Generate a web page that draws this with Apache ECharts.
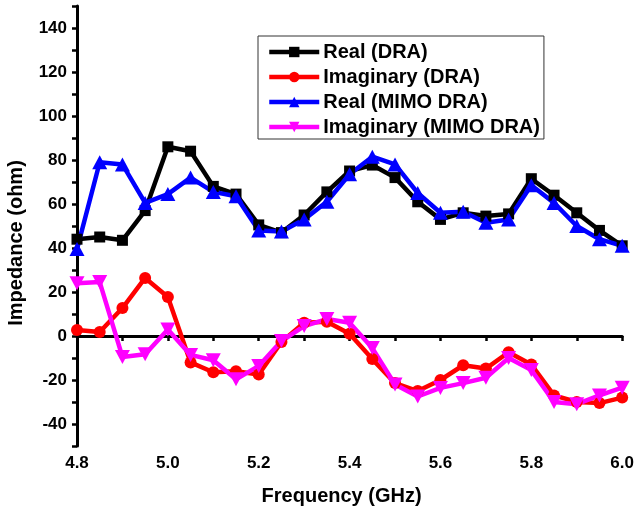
<!DOCTYPE html>
<html>
<head>
<meta charset="utf-8">
<script src="https://cdn.jsdelivr.net/npm/echarts@6/dist/echarts.min.js"></script>
<style>html,body{margin:0;padding:0;background:#fff}#c{width:637px;height:517px}</style>
</head>
<body>
<div id="c"></div>
<script>
var freq = [4.80, 4.85, 4.90, 4.95, 5.00, 5.05, 5.10, 5.15, 5.20, 5.25, 5.30, 5.35, 5.40, 5.45, 5.50, 5.55, 5.60, 5.65, 5.70, 5.75, 5.80, 5.85, 5.90, 5.95, 6.00];
var realDRA = [44, 45, 43.5, 57, 86, 84, 68, 64.5, 50.5, 47, 55, 65.5, 75, 77.7, 72, 61, 53, 56, 54.5, 55.5, 71.5, 64, 56, 48, 41];
var imagDRA = [2.7, 1.8, 12.7, 26.4, 17.7, -12, -16.5, -16, -17.5, -2.7, 6, 6.5, 1, -10.5, -21.4, -25, -20, -13.3, -14.8, -7.4, -13, -27, -30, -30.5, -28];
var realMIMO = [39.5, 79, 78, 60.5, 64.5, 72, 65.5, 63.5, 48, 47.5, 53, 61, 73.5, 81.5, 78, 65, 56, 56.5, 51.5, 53, 68.5, 60.5, 50, 44, 41];
var imagMIMO = [24, 24.5, -9.5, -8.3, 3, -8.6, -11, -19.7, -13.6, -2.3, 4.5, 7.7, 6, -5.5, -22, -27.5, -23.6, -21.4, -19, -10, -15.5, -30, -31, -27, -23.5];
var seriesNames = ['Real (DRA)', 'Imaginary (DRA)', 'Real (MIMO DRA)', 'Imaginary (MIMO DRA)'];
var xTitle = 'Frequency (GHz)';
var yTitle = 'Impedance (ohm)';

function pairs(ys) { return freq.map(function (f, i) { return [f, ys[i]]; }); }
var FONT = '"Liberation Sans", Arial, sans-serif';

function mk(name, ys, color, symbol, size) {
  return {
    name: name, type: 'line', data: pairs(ys),
    symbol: symbol, symbolSize: size,
    lineStyle: { color: color, width: 4.5 },
    itemStyle: { color: color },
    emphasis: { disabled: true },
    animation: false
  };
}

var chart = echarts.init(document.getElementById('c'), null, { renderer: 'canvas' });
chart.setOption({
  backgroundColor: '#fff',
  animation: false,
  grid: { left: 77, right: 11, top: 6, bottom: 71, containLabel: false },
  legend: {
    orient: 'vertical', left: 258, top: 36,
    padding: [6, 4, 2, 9],
    itemGap: 5, itemWidth: 50, itemHeight: 13,
    backgroundColor: '#fff', borderColor: '#333', borderWidth: 1,
    lineStyle: { width: 4.5 },
    textStyle: { fontFamily: FONT, fontWeight: 'bold', fontSize: 20, color: '#000', lineHeight: 19, padding: [0, 0, 0, -1] },
    data: seriesNames
  },
  xAxis: {
    type: 'value', min: 4.8, max: 6.0, interval: 0.1,
    name: xTitle, nameLocation: 'middle', nameGap: 40,
    nameTextStyle: { fontFamily: FONT, fontWeight: 'bold', fontSize: 20, color: '#000', padding: [0, 16, 0, 0] },
    axisLine: { lineStyle: { color: '#000', width: 3 } },
    axisTick: { length: 5, lineStyle: { color: '#000', width: 2.5 } },
    axisLabel: {
      margin: 9, fontFamily: FONT, fontWeight: 'bold', fontSize: 17, color: '#000',
      formatter: function (v) { return Math.round(v * 10) % 2 === 0 ? v.toFixed(1) : ''; }
    },
    splitLine: { show: false }
  },
  yAxis: {
    type: 'value', min: -50, max: 150, interval: 10,
    axisLine: { show: true, lineStyle: { color: '#000', width: 3 } },
    axisTick: { show: true, length: 5, lineStyle: { color: '#000', width: 2.5 } },
    axisLabel: {
      margin: 10, fontFamily: FONT, fontWeight: 'bold', fontSize: 17, color: '#000',
      formatter: function (v) { return Math.round(v) % 20 === 0 ? String(v) : ''; }
    },
    splitLine: { show: false }
  },
  graphic: [{
    type: 'text', x: 16, y: 243, rotation: Math.PI / 2,
    style: { text: yTitle, fontFamily: FONT, fontWeight: 'bold', fontSize: 20, fill: '#000', align: 'center', verticalAlign: 'middle' }
  }],
  series: [
    mk(seriesNames[0], realDRA, '#000000', 'rect', 11),
    mk(seriesNames[1], imagDRA, '#ff0000', 'circle', 12),
    mk(seriesNames[2], realMIMO, '#0000ff', 'triangle', [15, 14]),
    mk(seriesNames[3], imagMIMO, '#ff00ff', 'path://M0,0L20,0L10,18Z', [15, 14])
  ]
});
</script>
</body>
</html>
